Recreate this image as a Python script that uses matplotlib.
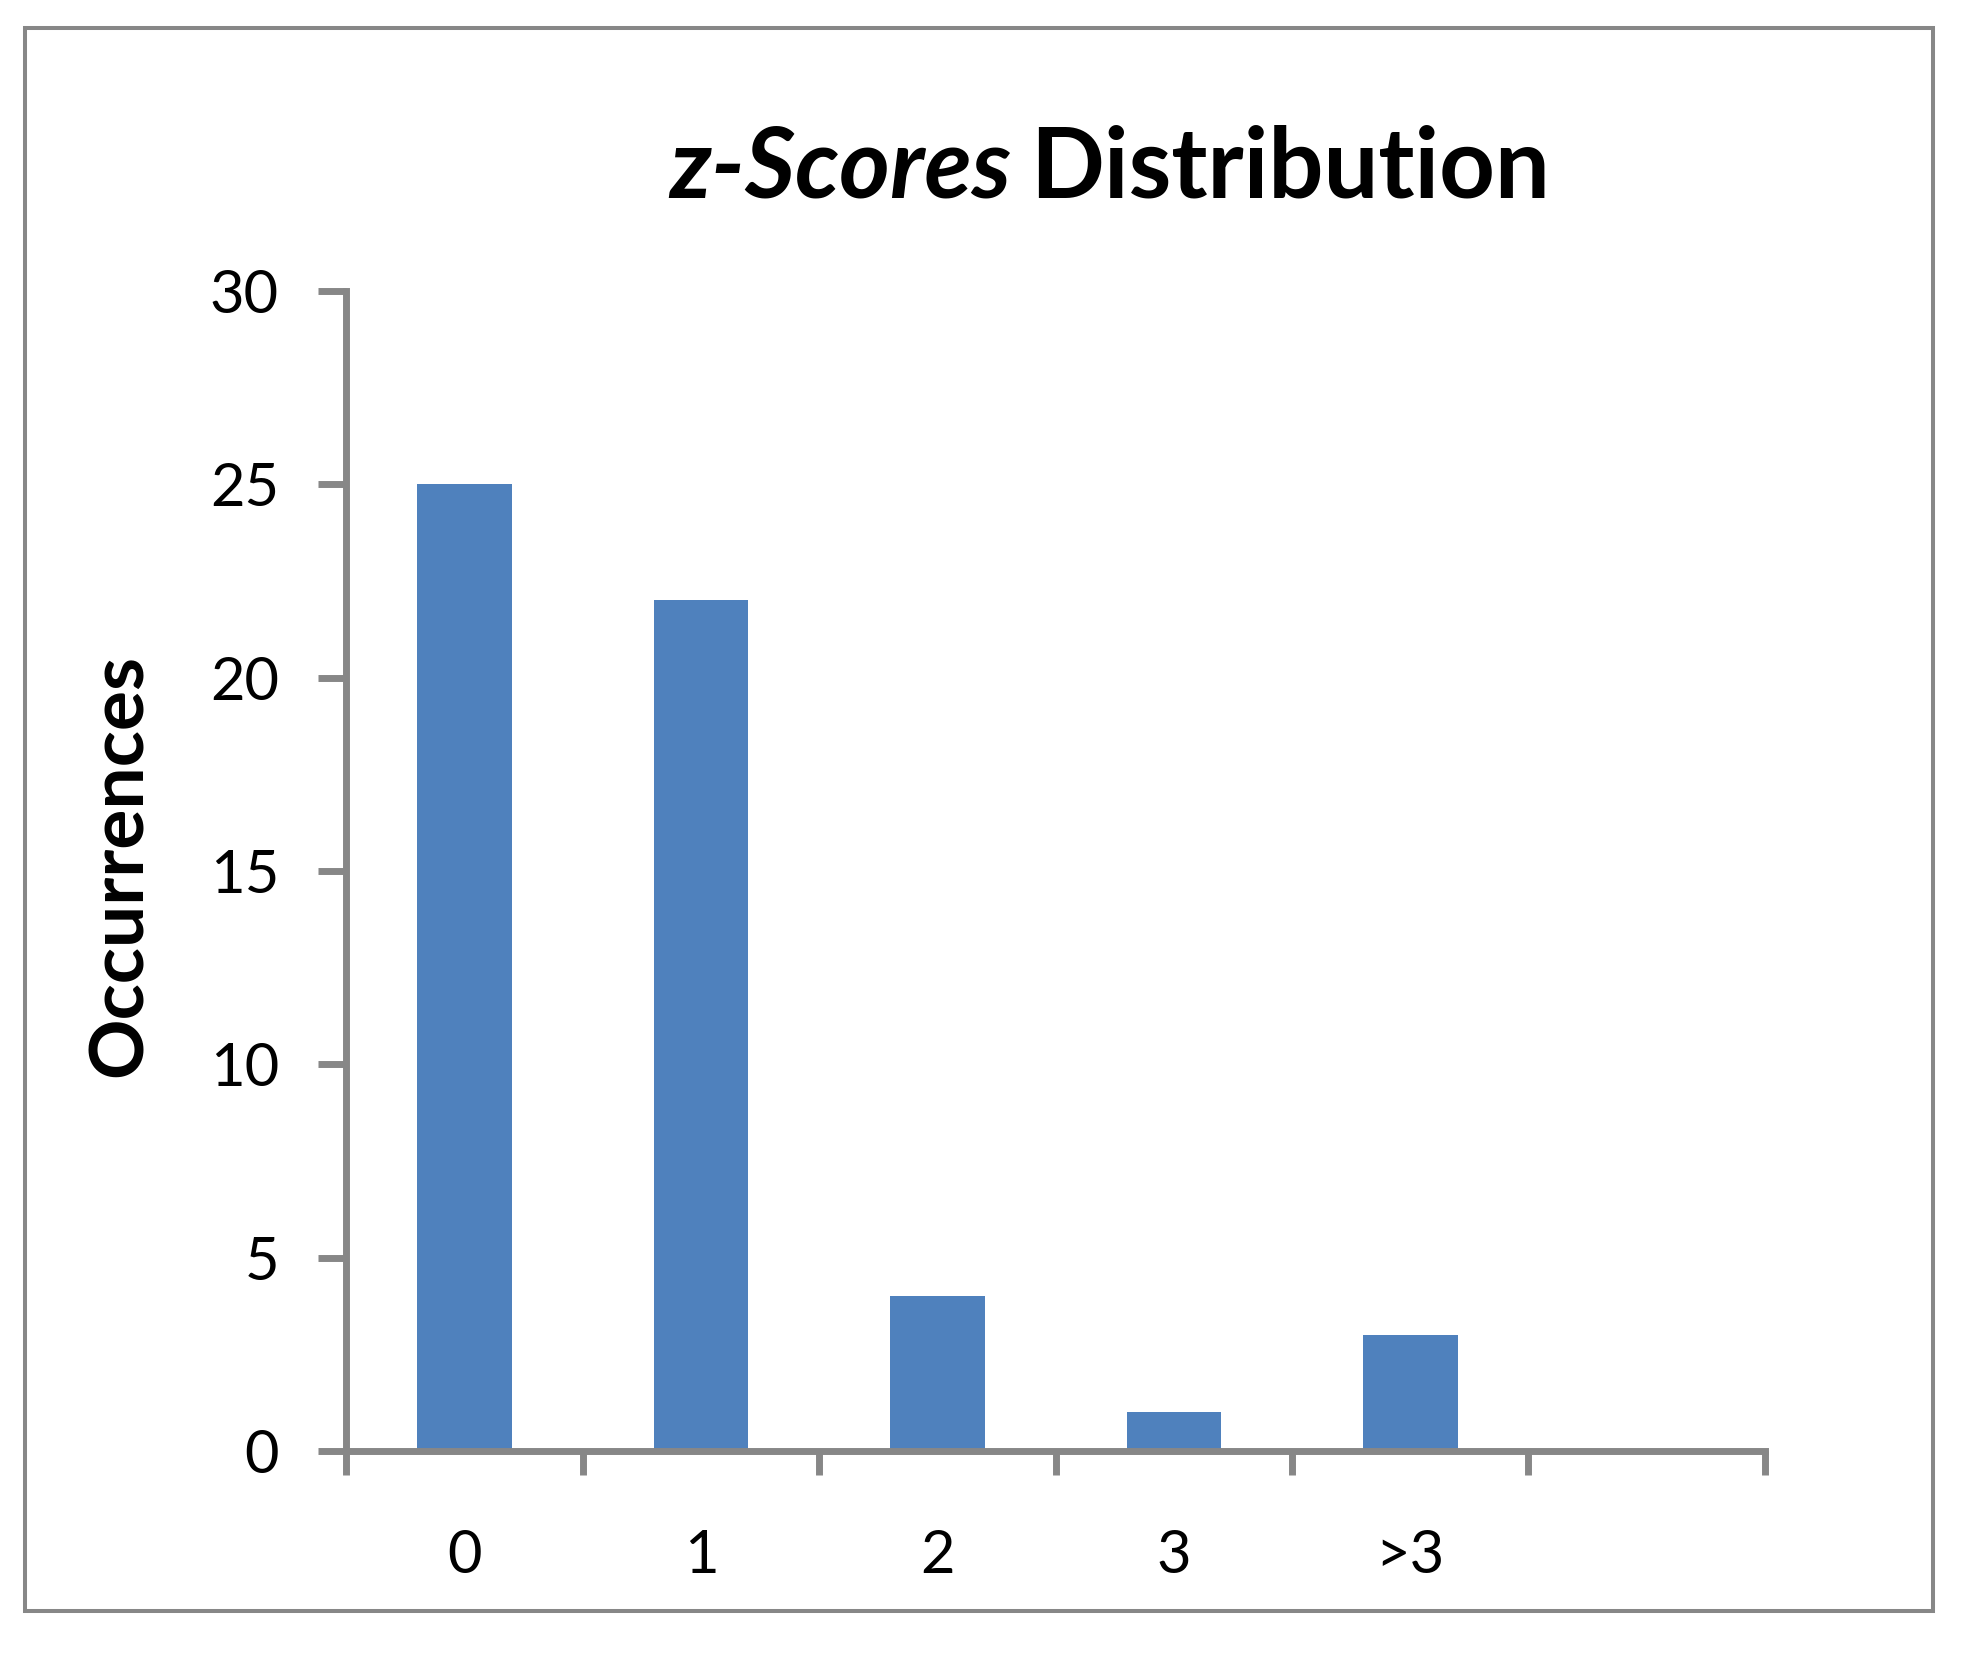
import matplotlib
matplotlib.use("Agg")
import matplotlib.pyplot as plt
from matplotlib.patches import Rectangle
from matplotlib.ticker import FixedLocator

categories = ["0", "1", "2", "3", ">3", ""]
occurrences = [25, 22, 4, 1, 3, 0]
y_ticks = [0, 5, 10, 15, 20, 25, 30]

bar_color = "#4F81BD"
axis_gray = "#878787"

plt.rcParams["font.family"] = ["Lato", "DejaVu Sans"]

fig = plt.figure(figsize=(19.68, 16.59), dpi=100)
ax = fig.add_axes([0.176, 0.1254, 0.7208, 0.6992])

x = list(range(len(categories)))
ax.bar(x[:5], occurrences[:5], width=0.4, color=bar_color, zorder=2)

ax.set_xlim(-0.5, len(categories) - 0.5)
ax.set_ylim(0, 30)
ax.set_yticks(y_ticks)
ax.tick_params(axis="y", direction="out", length=20.5, width=5,
               color=axis_gray, labelsize=43, pad=28)

# category boundaries carry the ticks, centers carry the labels
ax.xaxis.set_major_locator(FixedLocator([i - 0.5 for i in range(len(categories) + 1)]))
ax.xaxis.set_minor_locator(FixedLocator(x))
ax.set_xticklabels([], minor=False)
ax.set_xticklabels(categories, minor=True)
ax.tick_params(axis="x", which="major", direction="out", length=17, width=5,
               color=axis_gray)
ax.tick_params(axis="x", which="minor", length=0, labelsize=43, pad=56)

for side in ["top", "right"]:
    ax.spines[side].set_visible(False)
for side in ["left", "bottom"]:
    ax.spines[side].set_color(axis_gray)
    ax.spines[side].set_linewidth(5)
    ax.spines[side].set_zorder(3)

ax.set_ylabel("Occurrences", fontsize=54, fontweight="bold", labelpad=32)
ax.yaxis.set_label_coords(-0.135, 0.505)

# title with italic part, centered as one line
t1 = fig.text(0, 0.881, "z-Scores", fontsize=70, fontweight="bold",
              fontstyle="italic", ha="left", va="baseline")
t2 = fig.text(0, 0.881, "Distribution", fontsize=70, fontweight="bold",
              ha="left", va="baseline")
fig.canvas.draw()
w1 = t1.get_window_extent().width
w2 = t2.get_window_extent().width
gap = 18
start = 0.5638 * fig.bbox.width - (w1 + gap + w2) / 2
t1.set_x(start / fig.bbox.width)
t2.set_x((start + w1 + gap) / fig.bbox.width)

fig.patches.append(Rectangle((0.0127, 0.0289), 0.9695, 0.9541, transform=fig.transFigure,
                             fill=False, edgecolor=axis_gray, linewidth=2.9))

fig.savefig("out.png", dpi=100, facecolor="white")
